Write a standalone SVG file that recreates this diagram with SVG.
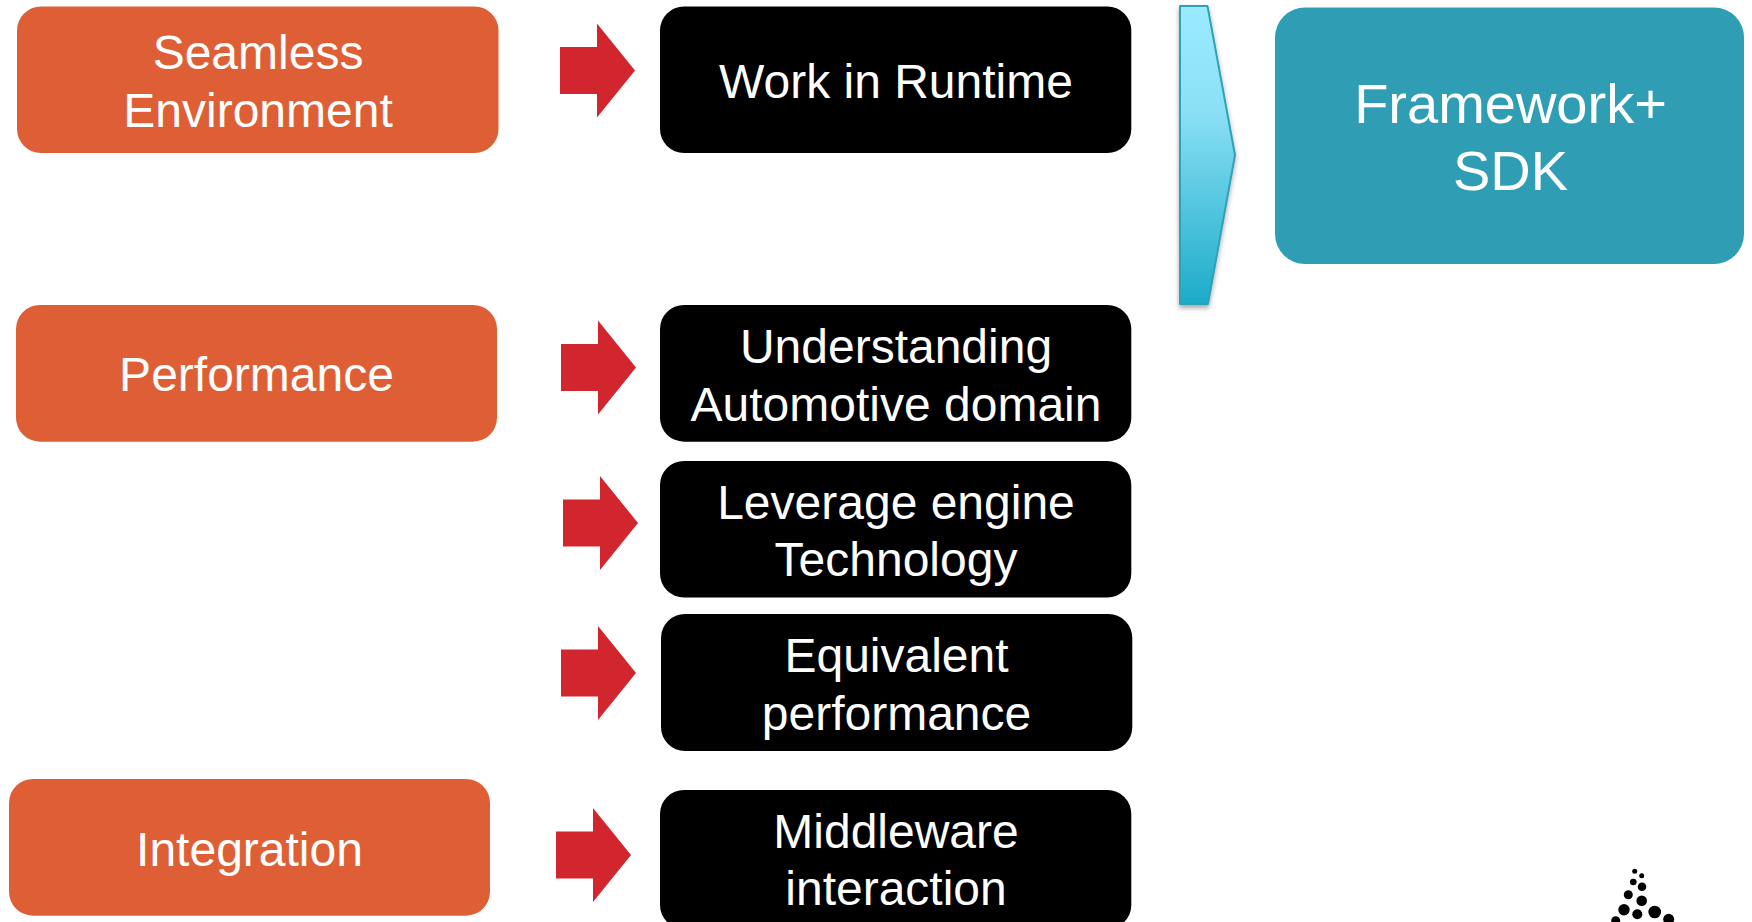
<svg xmlns="http://www.w3.org/2000/svg" width="1752" height="922" viewBox="0 0 1752 922">
<style>
text{font-family:"Liberation Sans",Arial,sans-serif;font-size:48px;fill:#fff;text-anchor:middle}
.o{fill:#de5f35}
.k{fill:#000}
.a{fill:#d2262e}
.d{fill:#000}
</style>
<defs>
<linearGradient id="g" x1="0" y1="0" x2="0" y2="1"><stop offset="0" stop-color="#9bebff"/><stop offset=".35" stop-color="#8be0f5"/><stop offset="1" stop-color="#1cabc8"/></linearGradient>
<filter id="s" x="-30%" y="-10%" width="160%" height="120%"><feDropShadow dx="0" dy="3" stdDeviation="2.500" flood-color="#000" flood-opacity=".35"/></filter>
<polygon id="ar" class="a" points="0,-23.500 37,-23.500 37,-47 75,0 37,47 37,23.500 0,23.500"/>
</defs>
<g id="connectors">
<use href="#ar" x="560" y="70.500"/>
<use href="#ar" x="561" y="367.500"/>
<use href="#ar" x="563" y="523"/>
<use href="#ar" x="561" y="673"/>
<use href="#ar" x="556" y="855"/>
<polygon points="1180,6 1207.500,6 1235,155 1208,304 1180,304" fill="url(#g)" stroke="#2ea3b8" stroke-width="2" stroke-linejoin="round" filter="url(#s)"/>
</g>
<g id="n-seamless"><rect class="o" x="17" y="6.500" width="481.500" height="146.500" rx="24"/><text x="258" y="69">Seamless</text><text x="258" y="127">Environment</text></g>
<g id="n-performance"><rect class="o" x="16" y="305" width="481" height="136.700" rx="24"/><text x="256.500" y="391">Performance</text></g>
<g id="n-integration"><rect class="o" x="9" y="779" width="481" height="136.700" rx="24"/><text x="249.500" y="866">Integration</text></g>
<g id="n-runtime"><rect class="k" x="660" y="6.500" width="471.300" height="146.500" rx="24"/><text x="896" y="98">Work in Runtime</text></g>
<g id="n-automotive"><rect class="k" x="660" y="305" width="471.300" height="136.700" rx="24"/><text x="896" y="363">Understanding</text><text x="896" y="420.500">Automotive domain</text></g>
<g id="n-engine"><rect class="k" x="660" y="461" width="471.300" height="136.500" rx="24"/><text x="896" y="519">Leverage engine</text><text x="896" y="576">Technology</text></g>
<g id="n-equivalent"><rect class="k" x="661" y="614" width="471.300" height="137" rx="24"/><text x="896.500" y="672">Equivalent</text><text x="896.500" y="730">performance</text></g>
<g id="n-middleware"><rect class="k" x="660" y="790" width="471.300" height="139" rx="24"/><text x="896" y="848">Middleware</text><text x="896" y="905">interaction</text></g>
<g id="n-framework"><rect x="1275" y="7.500" width="469" height="256.500" rx="30" fill="#2f9eb5"/><text x="1510.500" y="123" style="font-size:56px">Framework+</text><text x="1510.500" y="190" style="font-size:56px">SDK</text></g>
<g id="logo">
<circle class="d" cx="1634.700" cy="871.300" r="2.500"/><circle class="d" cx="1641.700" cy="875.700" r="2.500"/><circle class="d" cx="1633.300" cy="882" r="3.300"/><circle class="d" cx="1642" cy="886.700" r="4.300"/><circle class="d" cx="1628.300" cy="894.700" r="4.500"/><circle class="d" cx="1641.700" cy="900.700" r="5.300"/><circle class="d" cx="1624" cy="909.700" r="5.700"/><circle class="d" cx="1637.300" cy="914.300" r="5"/><circle class="d" cx="1654.700" cy="912" r="6.300"/><circle class="d" cx="1615.700" cy="920.700" r="4.500"/><circle class="d" cx="1668.700" cy="919.300" r="5.500"/>
</g>
</svg>
